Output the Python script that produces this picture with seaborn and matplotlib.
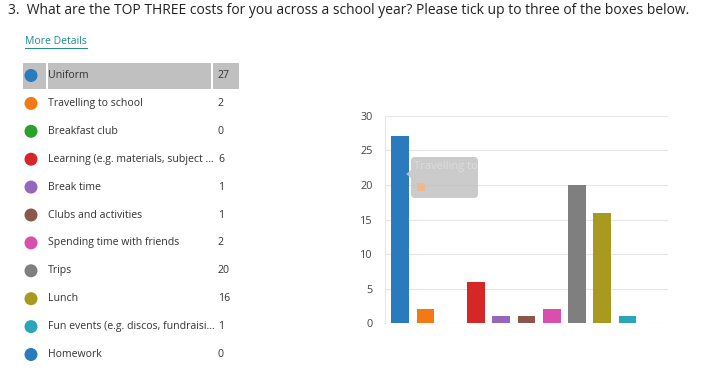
import numpy as np
import pandas as pd
import seaborn as sns
import matplotlib.pyplot as plt
from matplotlib.patches import Circle, Rectangle, FancyBboxPatch, Polygon

# Dados do grafico
categorias = ['Uniform', 'Travelling to school', 'Breakfast club',
              'Learning (e.g. materials, subject ...', 'Break time',
              'Clubs and activities', 'Spending time with friends', 'Trips',
              'Lunch', 'Fun events (e.g. discos, fundraisi...', 'Homework']
contagens = [27, 2, 0, 6, 1, 1, 2, 20, 16, 1, 0]
cores = ['#2a7bbd', '#f27a14', '#2ca02c', '#d62728', '#9467bd', '#8c564b',
         '#d84fae', '#7f7f7f', '#a89a1e', '#2aa6b8', '#2a7bbd']
yticks = [0, 5, 10, 15, 20, 25, 30]

titulo = 'What are the TOP THREE costs for you across a school year? Please tick up to three of the boxes below.'

W, H = 726, 375
fig = plt.figure(figsize=(W / 100, H / 100), dpi=100)
fig.patch.set_facecolor('white')

# camada de desenho em pixels
bg = fig.add_axes([0, 0, 1, 1])
bg.set_xlim(0, W)
bg.set_ylim(H, 0)
bg.axis('off')

fonte = 'Open Sans'
cor_texto = '#333333'

bg.text(8, 11, '3.  ' + titulo, fontsize=10.0, family=fonte, color='#222222', va='center', ha='left')
bg.text(25, 41, 'More Details', fontsize=7.5, family=fonte, color='#1f8a8f', va='center', ha='left')
bg.plot([25, 87], [47.5, 47.5], color='#1f8a8f', lw=0.7)

# linha destacada (Uniform)
bg.add_patch(Rectangle((23, 63), 23, 26, color='#c0c0c0', lw=0))
bg.add_patch(Rectangle((48, 63), 163, 26, color='#c0c0c0', lw=0))
bg.add_patch(Rectangle((213, 63), 26, 26, color='#c0c0c0', lw=0))

# lista lateral
y0, passo = 75.5, 27.9
for i, (nome, n, c) in enumerate(zip(categorias, contagens, cores)):
    y = y0 + i * passo
    bg.add_patch(Circle((31, y), 6.5, color=c, lw=0))
    bg.text(48, y, nome, fontsize=7.6, family=fonte, color=cor_texto, va='center', ha='left')
    bg.text(218, y, str(n), fontsize=7.6, family=fonte, color=cor_texto, va='center', ha='left')

# grafico de barras
ax = fig.add_axes([385 / W, (H - 323.3) / H, (668 - 385) / W, (323.3 - 115.7) / H])
ax.patch.set_alpha(0)
df = pd.DataFrame({'categoria': categorias, 'contagem': contagens})
sns.barplot(data=df, x='categoria', y='contagem', hue='categoria', palette=cores,
            legend=False, width=0.7, ax=ax, zorder=3, saturation=1)
ax.set_ylim(0, 30)
ax.set_yticks(yticks)
ax.set_xticks([])
ax.set_xlabel('')
ax.set_ylabel('')
ax.set_xlim(-0.6, len(categorias) - 0.4)
ax.grid(axis='y', color='#e6e6e6', lw=0.8, zorder=0)
for s in ['top', 'right', 'bottom']:
    ax.spines[s].set_visible(False)
ax.spines['left'].set_color('#e6e6e6')
ax.spines['left'].set_linewidth(0.8)
ax.tick_params(axis='y', length=0, pad=9, labelsize=7.8, labelcolor='#444444')
for lb in ax.get_yticklabels():
    lb.set_family(fonte)

# tooltip (hover) numa camada por cima
top = fig.add_axes([0, 0, 1, 1])
top.set_xlim(0, W)
top.set_ylim(H, 0)
top.axis('off')
top.add_patch(FancyBboxPatch((411, 157), 67, 41, boxstyle='round,pad=0,rounding_size=4',
                             fc='#c2c2c2', ec='none', alpha=0.85))
top.add_patch(Polygon([[411, 170], [406, 174], [411, 178]], closed=True, fc='#c2c2c2',
                      ec='none', alpha=0.85))
t = top.text(414, 167, 'Travelling to', fontsize=8.0, family=fonte, color='#dcdcdc',
             va='center', ha='left')
t.set_clip_path(Rectangle((411, 157), 66, 41, transform=top.transData))
top.add_patch(Rectangle((417, 183), 8, 8, color='#efb98f', lw=0))

fig.savefig('out.png', dpi=100)
